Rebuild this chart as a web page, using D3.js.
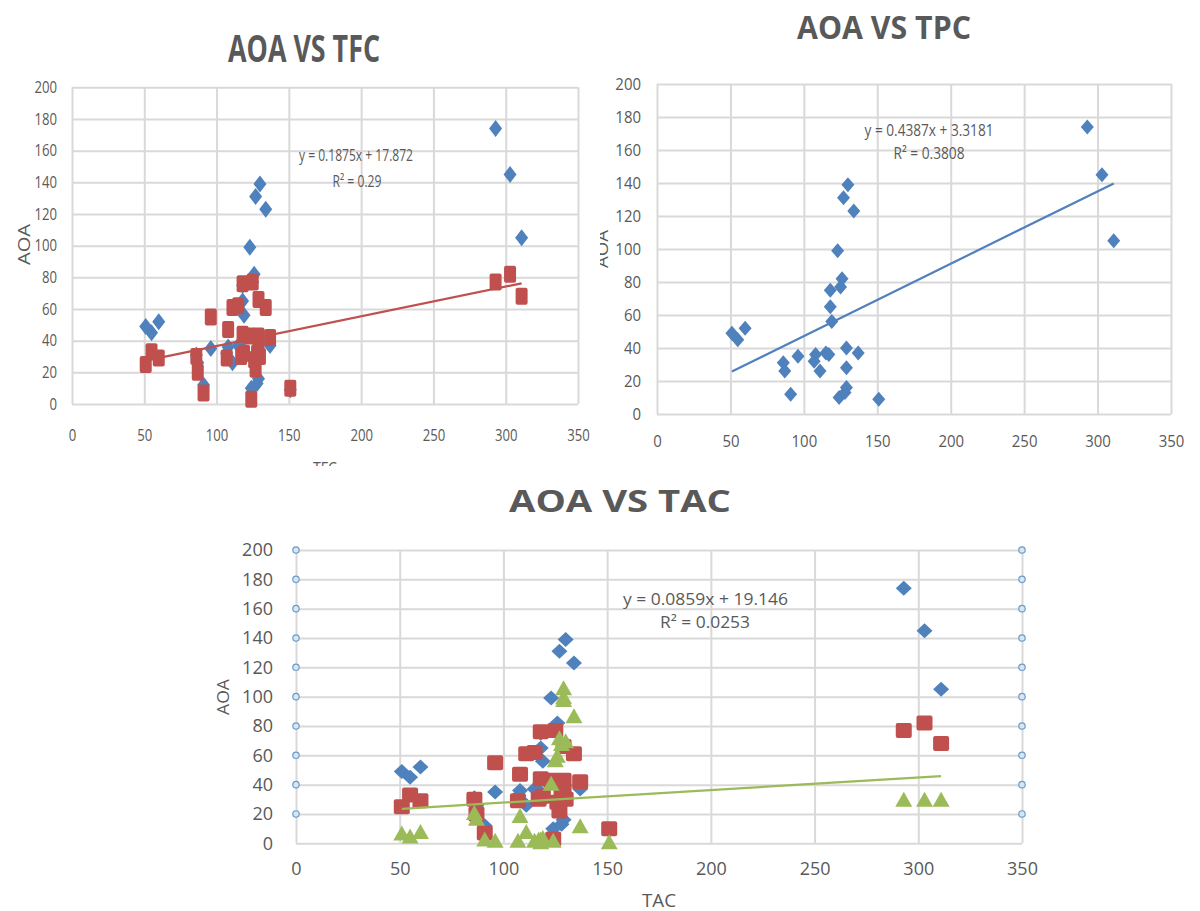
<!DOCTYPE html>
<html>
<head>
<meta charset="utf-8">
<script src="https://cdn.jsdelivr.net/npm/d3@7"></script>
<style>
  body { margin: 0; background: #fff; }
  svg { display: block; }
  text { font-family: "Open Sans", "Liberation Sans", sans-serif; fill: #595959; }
</style>
</head>
<body>
<svg id="fig" width="1200" height="911"></svg>
<script>
// ---- data: one x per sample, three AOA series ----
const sampleX   = [51, 55, 60, 86, 87, 91, 96, 108, 107, 111, 115, 117, 118, 118, 119, 123, 124, 125, 126, 127, 128, 129, 129, 129, 130, 134, 137, 151, 293, 303, 311];
const aoaBlue   = [49, 45, 52, 31, 26, 12, 35, 36, 32, 26, 37, 36, 75, 65, 56, 99, 10, 77, 82, 131, 13, 16, 40, 28, 139, 123, 37, 9, 174, 145, 105];
const aoaRed    = [25, 33, 29, 30, 20, 7, 55, 47, 29, 61, 62, 30, 76, 44, 32, 43, 3, 77, 28, 22, 32, 43, 66, 36, 30, 61, 42, 10, 77, 82, 68];
const aoaGreen  = [7, 5, 8, 21, 17, 3, 2, 19, 2, 8, 2, 3, 3, 1, 4, 41, 2, 57, 60, 72, 68, 106, 100, 98, 70, 87, 12, 1, 30, 30, 30];

const xTicks = [0, 50, 100, 150, 200, 250, 300, 350];
const yTicks = [0, 20, 40, 60, 80, 100, 120, 140, 160, 180, 200];

// linear trendlines as printed on each chart
const trendTFC = { slope: 0.1875, intercept: 17.872, eq: "y = 0.1875x + 17.872", r2: "R² = 0.29" };
const trendTPC = { slope: 0.4387, intercept: 3.3181, eq: "y = 0.4387x + 3.3181", r2: "R² = 0.3808" };
const trendTAC = { slope: 0.0859, intercept: 19.146, eq: "y = 0.0859x + 19.146", r2: "R² = 0.0253" };

const COLORS = { blue: "#4f81bd", red: "#c0504d", green: "#9bbb59", grid: "#d9d9d9" };
const seriesValues = { blue: aoaBlue, red: aoaRed, green: aoaGreen };
const seriesShape = { blue: "diamond", red: "square", green: "triangle" };

const svg = d3.select("#fig");
const defs = svg.append("defs");

function diamondPath(w, h) { return `M0,${-h / 2}L${w / 2},0L0,${h / 2}L${-w / 2},0Z`; }
function trianglePath(w, h) { return `M0,${-h / 2}L${w / 2},${h / 2}L${-w / 2},${h / 2}Z`; }

// squeeze/stretch text horizontally to the given factor of its natural width
function condense(sel, k) {
  if (k === 1) return;
  sel.each(function () {
    const w = this.getComputedTextLength();
    d3.select(this).attr("textLength", w * k).attr("lengthAdjust", "spacingAndGlyphs");
  });
}
function fitWidth(sel, w) { sel.attr("textLength", w).attr("lengthAdjust", "spacingAndGlyphs"); }

const panels = [
  {
    id: "tfc", clip: [0, 0, 600, 466], plot: { l: 72, r: 578, t: 87.3, b: 404 },
    tickFont: 16, tickK: 0.82, yPad: 15, xBase: 440.5,
    title: { text: "AOA VS TFC", x: 304, y: 61.7, size: 37, w: 152 },
    series: ["blue", "red"], trend: trendTFC, trendColor: COLORS.red,
    eq: { x: 356, y: 160.5, size: 16, w: 114 }, r2: { x: 357, y: 186.5, size: 16, w: 49 },
    yTitle: { text: "AOA", x: 23, y: 244.5, size: 17, w: 41 },
    xTitle: { text: "TFC", x: 325, y: 474, size: 17, w: 24 },
    marker: { diamond: [13, 17], square: [12, 17] }, edgeDots: false
  },
  {
    id: "tpc", clip: [600, 0, 600, 466], plot: { l: 657, r: 1171, t: 84, b: 414 },
    tickFont: 17, tickK: 0.88, yPad: 16, xBase: 446.5,
    title: { text: "AOA VS TPC", x: 884, y: 39.3, size: 31.5, w: 174 },
    series: ["blue"], trend: trendTPC, trendColor: COLORS.blue,
    eq: { x: 929, y: 136, size: 17, w: 129 }, r2: { x: 929, y: 159.3, size: 17, w: 71 },
    yTitle: { text: "AOA", x: 601, y: 249, size: 17, w: 38 },
    xTitle: null,
    marker: { diamond: [13, 15] }, edgeDots: false
  },
  {
    id: "tac", clip: [185, 470, 860, 441], plot: { l: 296, r: 1022, t: 550, b: 843.3 },
    tickFont: 18, tickK: 1, yPad: 23, xBase: 875,
    title: { text: "AOA VS TAC", x: 620, y: 511.7, size: 30, w: 222 },
    series: ["blue", "red", "green"], trend: trendTAC, trendColor: COLORS.green,
    eq: { x: 705.5, y: 604.5, size: 16, w: 165 }, r2: { x: 705, y: 627.5, size: 16, w: 90 },
    yTitle: { text: "AOA", x: 222.5, y: 697, size: 17, w: 36 },
    xTitle: { text: "TAC", x: 659, y: 907, size: 18, w: 34 },
    marker: { diamond: [16, 15], square: [16, 15], triangle: [17, 15] }, edgeDots: true
  }
];

panels.forEach(p => {
  const [cx, cy, cw, ch] = p.clip;
  defs.append("clipPath").attr("id", "clip-" + p.id)
    .append("rect").attr("x", cx).attr("y", cy).attr("width", cw).attr("height", ch);
  const g = svg.append("g").attr("clip-path", `url(#clip-${p.id})`);
  g.append("rect").attr("x", cx).attr("y", cy).attr("width", cw).attr("height", ch).attr("fill", "#fff");

  const x = d3.scaleLinear().domain([0, 350]).range([p.plot.l, p.plot.r]);
  const y = d3.scaleLinear().domain([0, 200]).range([p.plot.b, p.plot.t]);
  const pw = p.plot.r - p.plot.l, ph = p.plot.b - p.plot.t;

  // gridlines + tick labels
  const gx = g.append("g").attr("transform", `translate(0,${p.plot.b})`)
    .call(d3.axisBottom(x).tickValues(xTicks).tickSize(-ph).tickPadding(0).tickFormat(d3.format("d")));
  const gy = g.append("g").attr("transform", `translate(${p.plot.l},0)`)
    .call(d3.axisLeft(y).tickValues(yTicks).tickSize(-pw).tickPadding(p.yPad).tickFormat(d3.format("d")));
  [gx, gy].forEach(a => {
    a.select(".domain").remove();
    a.selectAll(".tick line").attr("stroke", COLORS.grid).attr("stroke-width", 2);
    a.selectAll(".tick text").attr("fill", "#595959").style("font-size", p.tickFont + "px")
      .style("font-family", '"Open Sans", sans-serif');
  });
  gx.selectAll(".tick text").attr("y", p.xBase - p.plot.b).attr("dy", 0);
  condense(gx.selectAll(".tick text"), p.tickK);
  condense(gy.selectAll(".tick text"), p.tickK);

  // small open circles on both vertical edges at each gridline
  if (p.edgeDots) {
    const edgeVals = yTicks.filter(v => v > 0);
    [0, 350].forEach(xv => {
      g.append("g").selectAll("circle").data(edgeVals).join("circle")
        .attr("cx", x(xv)).attr("cy", d => y(d)).attr("r", 3.2)
        .attr("fill", "#d6e6f3").attr("stroke", "#6b9bc8").attr("stroke-width", 1.2);
    });
  }

  // series markers
  p.series.forEach(key => {
    const pts = sampleX.map((xv, i) => ({ x: xv, y: seriesValues[key][i] }));
    const shape = seriesShape[key];
    const [mw, mh] = p.marker[shape];
    const sg = g.append("g").attr("fill", COLORS[key]);
    if (shape === "square") {
      sg.selectAll("rect").data(pts).join("rect")
        .attr("x", d => x(d.x) - mw / 2).attr("y", d => y(d.y) - mh / 2)
        .attr("width", mw).attr("height", mh).attr("rx", 2);
    } else {
      const path = shape === "diamond" ? diamondPath(mw, mh) : trianglePath(mw, mh);
      sg.selectAll("path").data(pts).join("path")
        .attr("d", path).attr("transform", d => `translate(${x(d.x)},${y(d.y)})`);
    }
  });

  // trendline over the sample range
  const [x0, x1] = d3.extent(sampleX);
  const t = p.trend;
  g.append("line")
    .attr("x1", x(x0)).attr("y1", y(t.slope * x0 + t.intercept))
    .attr("x2", x(x1)).attr("y2", y(t.slope * x1 + t.intercept))
    .attr("stroke", p.trendColor).attr("stroke-width", 2.2);

  // equation and R²
  fitWidth(g.append("text").attr("x", p.eq.x).attr("y", p.eq.y).attr("text-anchor", "middle")
    .style("font-size", p.eq.size + "px").text(t.eq), p.eq.w);
  fitWidth(g.append("text").attr("x", p.r2.x).attr("y", p.r2.y).attr("text-anchor", "middle")
    .style("font-size", p.r2.size + "px").text(t.r2), p.r2.w);

  // titles
  fitWidth(g.append("text").attr("x", p.title.x).attr("y", p.title.y).attr("text-anchor", "middle")
    .style("font-size", p.title.size + "px").style("font-weight", 700).text(p.title.text), p.title.w);

  fitWidth(g.append("text").attr("transform", `translate(${p.yTitle.x},${p.yTitle.y}) rotate(-90)`)
    .attr("text-anchor", "middle").attr("dominant-baseline", "central")
    .style("font-size", p.yTitle.size + "px").text(p.yTitle.text), p.yTitle.w);

  if (p.xTitle) {
    fitWidth(g.append("text").attr("x", p.xTitle.x).attr("y", p.xTitle.y).attr("text-anchor", "middle")
      .style("font-size", p.xTitle.size + "px").text(p.xTitle.text), p.xTitle.w);
  }
});
</script>
</body>
</html>
